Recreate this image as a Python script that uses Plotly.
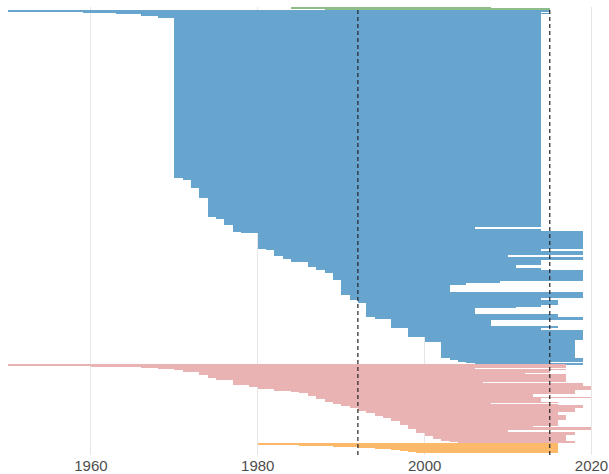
import numpy as np
import plotly.graph_objects as go

# rows are listed top to bottom; height = vertical share of each run of rows
green_start = [1984, 1988, 2004]
green_end = [2008, 2015, 2015]
green_height = [1.2, 1.1, 1.0]

blue_start = [1950, 1959, 1963, 1966, 1968, 1970, 1971, 1972, 1973, 1974,
              1975, 1976, 1977, 1977, 1977, 1978, 1980, 1981, 1982, 1982,
              1982, 1983, 1983, 1984, 1984, 1986, 1986, 1987, 1987, 1988,
              1989, 1990, 1990, 1990, 1990, 1990, 1991, 1991, 1992, 1992,
              1993, 1993, 1993, 1993, 1993, 1994, 1996, 1996, 1996, 1998,
              1998, 2000, 2000, 2002, 2003, 2004, 2005, 2006]
blue_end = [2015, 2014, 2015, 2014, 2014, 2014, 2014, 2014, 2014, 2014,
            2014, 2014, 2014, 2006, 2014, 2019, 2019, 2014, 2014, 2019,
            2010, 2010, 2019, 2019, 2014, 2014, 2011, 2011, 2014, 2019,
            2019, 2019, 2009, 2005, 2003, 2019, 2019, 2014, 2014, 2016,
            2016, 2014, 2011, 2006, 2016, 2019, 2019, 2008, 2016, 2014,
            2019, 2019, 2018, 2018, 2019, 2019, 2015, 2019]
blue_height = [1.3, 1.4, 1.0, 2.0, 1.5, 160.8, 1.7, 8.3, 10.0, 18.4,
               2.3, 6.0, 1.7, 2.6, 2.4, 1.6, 15.7, 1.0, 1.0, 4.0,
               1.0, 1.3, 2.0, 0.7, 1.7, 3.3, 1.7, 1.0, 2.3, 2.7,
               7.3, 1.0, 2.3, 1.7, 7.3, 2.7, 3.3, 1.0, 0.7, 3.3,
               1.0, 2.4, 1.6, 6.0, 2.4, 2.6, 0.7, 5.7, 2.6, 1.7,
               6.7, 3.3, 1.7, 16.6, 1.7, 1.7, 1.3, 1.5]

pink_start = [1950, 1960, 1963, 1966, 1968, 1970, 1971, 1973, 1973, 1973,
              1974, 1975, 1977, 1977, 1977, 1979, 1979, 1980, 1982, 1982,
              1984, 1985, 1986, 1986, 1987, 1987, 1987, 1988, 1989, 1989,
              1990, 1990, 1991, 1992, 1993, 1993, 1994, 1994, 1995, 1996,
              1996, 1997, 1998, 1998, 1998, 1999, 1999, 1999, 2000, 2000,
              2001, 2002, 2003, 2004]
pink_end = [2017, 2017, 2017, 2017, 2006, 2017, 2015, 2015, 2012, 2017,
            2017, 2017, 2017, 2007, 2019, 2019, 2020, 2020, 2020, 2018,
            2018, 2018, 2018, 2013, 2013, 2020, 2014, 2014, 2016, 2008,
            2016, 2019, 2019, 2018, 2018, 2016, 2016, 2017, 2017, 2017,
            2016, 2016, 2016, 2013, 2020, 2020, 2010, 2018, 2018, 2017,
            2017, 2017, 2018, 2018]
pink_height = [1.0, 0.8, 0.7, 1.0, 1.0, 1.0, 2.0, 1.0, 1.0, 1.0,
               3.0, 2.0, 1.5, 1.5, 2.0, 1.0, 1.0, 2.0, 1.0, 1.0,
               1.0, 1.0, 1.0, 2.0, 1.0, 1.0, 1.0, 3.0, 1.0, 1.0,
               1.0, 1.0, 2.0, 3.0, 1.0, 1.0, 2.0, 1.0, 2.0, 2.0,
               1.0, 4.0, 1.0, 1.0, 2.0, 1.0, 2.0, 1.0, 2.0, 1.0,
               3.0, 2.0, 1.0, 1.0]

orange_start = [1980, 1985, 1989, 1992, 1994, 1996, 1996, 1997, 1998, 1999]
orange_end = [2016, 2016, 2016, 2016, 2016, 2016, 2011, 2016, 2011, 2016]
orange_height = [1.5, 1.0, 1.0, 1.0, 1.0, 0.8, 0.7, 0.8, 0.7, 1.5]

ref_years = [1992, 2015]
tick_years = [1960, 1980, 2000, 2020]

groups = [
    ("green", green_start, green_end, green_height, "#8fbd8a"),
    ("blue", blue_start, blue_end, blue_height, "#68a5ce"),
    ("pink", pink_start, pink_end, pink_height, "#e9b3b4"),
    ("orange", orange_start, orange_end, orange_height, "#fdb96a"),
]

fig = go.Figure()
top = 0.0
for name, starts, ends, heights, color in groups:
    h = np.array(heights)
    s = np.array(starts)
    e = np.array(ends)
    ypos = top + np.cumsum(h) - h / 2
    top += h.sum()
    fig.add_trace(go.Bar(
        y=ypos, x=e - s, base=s, width=h,
        orientation="h", name=name, showlegend=False,
        marker=dict(color=color, line=dict(width=0)),
    ))

for yr in ref_years:
    fig.add_shape(type="line", x0=yr, x1=yr, y0=0, y1=1, yref="paper",
                  line=dict(color="#222222", width=1.2, dash="4px,3px"))

fig.update_layout(
    width=609, height=474,
    margin=dict(l=0, r=0, t=7, b=19),
    plot_bgcolor="white", paper_bgcolor="white",
    barmode="overlay", bargap=0,
    xaxis=dict(range=[1949.1, 2022.1], tickvals=tick_years, showgrid=True,
               gridcolor="#e6e6e6", gridwidth=1, zeroline=False, showline=False,
               ticks="", automargin=False,
               tickfont=dict(family="Liberation Sans, Arial", size=15, color="#4d4d4d")),
    yaxis=dict(range=[448, 0], visible=False, automargin=False),
)

# drop the browser's default body margin so the figure sits at the page corner
fig.write_html("out.html", config={"displayModeBar": False},
               post_script="document.body.style.margin='0';")
